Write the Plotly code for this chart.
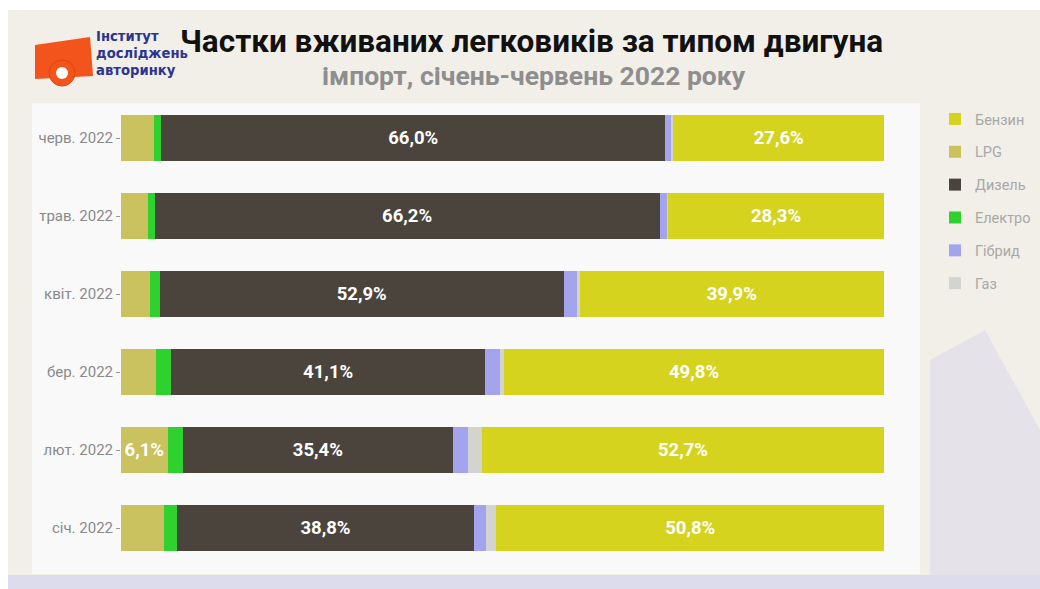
import plotly.graph_objects as go

# ---- data ----
months = ["січ. 2022", "лют. 2022", "бер. 2022", "квіт. 2022", "трав. 2022", "черв. 2022"]
lpg     = [5.6, 6.1, 4.6, 3.8, 3.5, 4.3]
elektro = [1.8, 2.0, 2.0, 1.3, 0.9, 1.0]
dyzel   = [38.8, 35.4, 41.1, 52.9, 66.2, 66.0]
hibryd  = [1.7, 2.0, 2.0, 1.8, 1.0, 0.9]
haz     = [1.3, 1.8, 0.5, 0.3, 0.1, 0.2]
benzyn  = [50.8, 52.7, 49.8, 39.9, 28.3, 27.6]

series = [
    ("LPG", lpg, "#c9c25e", 2),
    ("Електро", elektro, "#2fd12f", 4),
    ("Дизель", dyzel, "#4a443d", 3),
    ("Гібрид", hibryd, "#a3a3ee", 5),
    ("Газ", haz, "#d3d3cf", 6),
    ("Бензин", benzyn, "#d6d31f", 1),
]

# ---- layout geometry (pixels) ----
W, H = 1040, 589
L, R, T, B = 121, 156, 99, 22
PW, PH = W - L - R, H - T - B


def px(x):
    return (x - L) / PW


def py(y):
    return (H - B - y) / PH


def fmt(v):
    return f"{v:.1f}%".replace(".", ",") if v >= 6 else ""


fig = go.Figure()
for name, vals, color, rank in series:
    fig.add_trace(go.Bar(
        y=months, x=vals, name=name, orientation="h",
        marker=dict(color=color, line=dict(width=0)),
        text=[fmt(v) for v in vals],
        textposition="inside", insidetextanchor="middle",
        textfont=dict(color="white", size=18.5, family="Roboto", weight="bold"),
        constraintext="none",
        legendrank=rank, legendgroup=name,
        hovertemplate="%{y}: %{x:.1f}%<extra>" + name + "</extra>",
    ))

shapes = [
    # white frame strips
    dict(type="rect", xref="paper", yref="paper", x0=px(0), x1=px(W), y0=py(10), y1=py(0),
         fillcolor="white", line_width=0, layer="below"),
    dict(type="rect", xref="paper", yref="paper", x0=px(0), x1=px(8), y0=py(H), y1=py(0),
         fillcolor="white", line_width=0, layer="below"),
    # lavender lower band
    dict(type="rect", xref="paper", yref="paper", x0=px(8), x1=px(W), y0=py(H), y1=py(575),
         fillcolor="#dcdcec", line_width=0, layer="below"),
    dict(type="path", xref="paper", yref="paper",
         path=f"M{px(930)},{py(360)} L{px(985)},{py(330)} L{px(1040)},{py(430)} L{px(1040)},{py(575)} L{px(930)},{py(575)} Z",
         fillcolor="rgba(205,205,235,0.35)", line_width=0, layer="below"),
    # white panel
    dict(type="rect", xref="paper", yref="paper", x0=px(32), x1=px(920), y0=py(574), y1=py(103),
         fillcolor="rgba(250,250,250,0.92)", line_width=0, layer="below"),
    # logo
    dict(type="path", xref="paper", yref="paper",
         path=f"M{px(35)},{py(45)} L{px(90)},{py(37)} L{px(93)},{py(76)} L{px(35)},{py(79)} Z",
         fillcolor="#f2541b", line_width=0),
    dict(type="circle", xref="paper", yref="paper", x0=px(49), x1=px(75), y0=py(86), y1=py(60),
         fillcolor="#f2541b", line=dict(color="#d9480f", width=1)),
    dict(type="circle", xref="paper", yref="paper", x0=px(56), x1=px(68), y0=py(79), y1=py(67),
         fillcolor="white", line_width=0),
    dict(type="path", xref="paper", yref="paper",
         path=f"M{px(62)},{py(73)} L{px(62)},{py(67)} A 1 1 0 0 1 {px(68)},{py(73)} Z",
         fillcolor="#2b3590", line_width=0),
]

annotations = [
    dict(text="Частки вживаних легковиків за типом двигуна", x=px(531), y=py(42),
         xref="paper", yref="paper", showarrow=False, xanchor="center", yanchor="middle",
         font=dict(family="Roboto", size=31.5, color="#111111", weight="bold")),
    dict(text="імпорт, січень-червень 2022 року", x=px(534), y=py(76),
         xref="paper", yref="paper", showarrow=False, xanchor="center", yanchor="middle",
         font=dict(family="Roboto", size=26.5, color="#8e8e8e", weight="bold")),
    dict(text="Інститут<br>досліджень<br>авторинку", x=px(94), y=py(54),
         xref="paper", yref="paper", showarrow=False, xanchor="left", yanchor="middle",
         align="left",
         font=dict(family="DejaVu Sans", size=13.2, color="#2b3590", weight="bold")),
]

fig.update_layout(
    width=W, height=H,
    margin=dict(l=L, r=R, t=T, b=B, autoexpand=False),
    barmode="stack", bargap=0.4,
    paper_bgcolor="#f2efe9", plot_bgcolor="rgba(0,0,0,0)",
    xaxis=dict(range=[0, 100], visible=False, fixedrange=True),
    yaxis=dict(categoryorder="array", categoryarray=months, showgrid=False, zeroline=False,
               ticks="outside", ticklen=4, tickcolor="#9a9a9a", ticklabelstandoff=0,
               tickfont=dict(family="Roboto", size=15, color="#8a8a8a"), showline=False),
    legend=dict(x=px(935), y=py(103), xanchor="left", yanchor="top",
                font=dict(family="Roboto", size=14.5, color="#a8a8a8"),
                tracegroupgap=11, bgcolor="rgba(0,0,0,0)", traceorder="grouped"),
    shapes=shapes, annotations=annotations,
    showlegend=True,
)

fig.write_html("out.html")
